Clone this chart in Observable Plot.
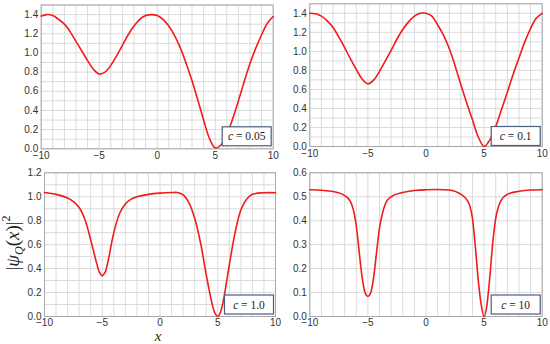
<!DOCTYPE html>
<html><head><meta charset="utf-8">
<script src="https://cdn.jsdelivr.net/npm/d3@7"></script>
<script src="https://cdn.jsdelivr.net/npm/@observablehq/plot@0.6"></script>
<style>
body{margin:0;background:#fff;}
#wrap{position:relative;width:550px;height:344px;overflow:hidden;background:#fff;}
.panel{position:absolute;}
#over{position:absolute;left:0;top:0;pointer-events:none;}
</style></head><body><div id="wrap"></div>
<script>
// ---- data ----
const xA = [-10,-9.5,-9,-8.5,-8,-7.5,-7,-6.5,-6,-5.5,-5,-4.5,-4,-3.5,-3,-2.5,-2,-1.5,-1,-0.5,0,0.5,1,1.5,2,2.5,3,3.5,4,4.5,5,5.5,6,6.5,7,7.5,8,8.5,9,9.5,10];
const y005 = [1.385,1.40,1.39,1.35,1.30,1.22,1.12,1.02,0.92,0.83,0.78,0.80,0.87,0.97,1.08,1.19,1.28,1.35,1.39,1.40,1.39,1.35,1.28,1.18,1.05,0.89,0.71,0.51,0.30,0.11,0.01,0.04,0.15,0.31,0.50,0.70,0.89,1.05,1.19,1.31,1.38];
const y01 = [1.40,1.395,1.37,1.32,1.25,1.15,1.04,0.92,0.81,0.71,0.66,0.70,0.79,0.90,1.01,1.13,1.23,1.31,1.37,1.40,1.40,1.37,1.28,1.17,1.03,0.85,0.65,0.46,0.28,0.10,0.0,0.07,0.21,0.39,0.57,0.76,0.93,1.10,1.24,1.35,1.40];
const xC = [-10,-9,-8,-7.5,-7,-6.5,-6,-5.5,-5.25,-5,-4.75,-4.5,-4,-3.5,-3,-2.5,-2,-1,0,1,1.5,2,2.5,3,3.5,4,4.5,4.75,5,5.25,5.5,6,6.5,7,7.5,8,9,10];
const y10 = [1.035,1.02,0.99,0.96,0.91,0.81,0.64,0.45,0.37,0.34,0.37,0.46,0.70,0.86,0.94,0.98,1.0,1.02,1.03,1.035,1.035,1.015,0.95,0.82,0.62,0.35,0.11,0.03,0.0,0.04,0.14,0.43,0.70,0.89,0.98,1.02,1.033,1.033];
const xD = [-10,-9,-8,-7,-6.5,-6.25,-6,-5.75,-5.5,-5.25,-5,-4.75,-4.5,-4.25,-4,-3.75,-3.5,-3,-2,-1,0,1,2,3,3.5,3.75,4,4.25,4.5,4.75,5,5.25,5.5,5.75,6,6.25,6.5,7,8,9,10];
const y100 = [0.529,0.527,0.522,0.505,0.48,0.445,0.38,0.27,0.165,0.10,0.084,0.10,0.165,0.27,0.37,0.43,0.47,0.50,0.518,0.526,0.529,0.530,0.528,0.51,0.488,0.465,0.41,0.29,0.15,0.05,0.0,0.05,0.17,0.31,0.41,0.46,0.488,0.51,0.523,0.528,0.529];
const xTicks = [-10,-5,0,5,10];
const xGrid = d3.range(-10,11,1);
const yTicksA = [0,0.2,0.4,0.6,0.8,1.0,1.2,1.4];
const yTicksC = [0,0.2,0.4,0.6,0.8,1.0,1.2];
const yTicksD = [0,0.1,0.2,0.3,0.4,0.5,0.6];
const labels = ["c = 0.05","c = 0.1","c = 1.0","c = 10"];

const wrap = document.getElementById("wrap");

function panel(o){
  const data = o.xs.map((x,i)=>({x, y:o.ys[i]}));
  const yGrid = d3.range(0, o.yMax + 1e-9, o.yStep).map(v=>+v.toFixed(3));
  const p = Plot.plot({
    width:o.w, height:o.h,
    marginLeft:o.ml, marginRight:o.mr, marginTop:o.mt, marginBottom:o.mb,
    style:{background:"transparent", overflow:"visible", fontFamily:"'Liberation Sans', Arial, sans-serif", fontSize:"10px", color:"#333"},
    x:{domain:[-10,10], ticks:xTicks, tickSize:0, tickPadding:o.xPad, tickFormat:d3.format("d"), label:null},
    y:{domain:[0,o.yMax], ticks:o.yTicks, tickSize:0, tickPadding:3, tickFormat:d3.format(".1f"), label:null},
    marks:[
      Plot.ruleX(xGrid, {stroke:"#dadada", strokeOpacity:1}),
      Plot.ruleY(yGrid, {stroke:"#dadada", strokeOpacity:1}),
      Plot.frame({stroke:"#a8a8a8"}),
      Plot.line(data, {x:"x", y:"y", stroke:"#f21b1b", strokeWidth:1.6, curve:o.curve})
    ]
  });
  const div = document.createElement("div");
  div.className = "panel";
  div.style.left = o.left+"px"; div.style.top = o.top+"px";
  div.appendChild(p);
  wrap.appendChild(div);
  // label box
  const svg = d3.select(p);
  const bw = 49, bh = 19;
  const bx = o.w - o.mr - 1.5 - bw, by = o.h - o.mb - o.bOff - bh;
  const g = svg.append("g");
  g.append("rect").attr("x",bx).attr("y",by).attr("width",bw).attr("height",bh)
    .attr("fill","#fff").attr("stroke","#4d5d7e").attr("stroke-width",1.2);
  const parts = o.label.split(" = ");
  const t = g.append("text").attr("x",bx+bw/2).attr("y",by+bh/2+4)
    .attr("text-anchor","middle").attr("font-family","'Liberation Serif', 'Times New Roman', serif")
    .attr("font-size","11.5px").attr("fill","#222");
  t.append("tspan").attr("font-style","italic").text(parts[0]);
  t.append("tspan").text(" = " + parts[1]);
}

panel({left:0, top:0, w:280, h:165, ml:40.7, mr:7.3, mt:4.5, mb:16.7, xs:xA, ys:y005, yMax:1.5, yStep:0.1, yTicks:yTicksA, label:labels[0], bOff:2.5, curve:"catmull-rom", xPad:3});
panel({left:270, top:0, w:280, h:165, ml:39.3, mr:8.3, mt:3.3, mb:19, xs:xA, ys:y01, yMax:1.5, yStep:0.1, yTicks:yTicksA, label:labels[1], bOff:0.5, curve:"catmull-rom", xPad:3});
panel({left:0, top:165, w:280, h:179, ml:44, mr:5, mt:7.3, mb:28, xs:xC, ys:y10, yMax:1.2, yStep:0.1, yTicks:yTicksC, label:labels[2], bOff:2, curve:"catmull-rom", xPad:2});
panel({left:270, top:165, w:280, h:179, ml:39.3, mr:8.3, mt:7.3, mb:28, xs:xD, ys:y100, yMax:0.6, yStep:0.1, yTicks:yTicksD, label:labels[3], bOff:2, curve:"monotone-x", xPad:2});

// axis titles
const over = d3.select(wrap).append("svg").attr("id","over").attr("width",550).attr("height",344);
over.append("text").attr("x",158).attr("y",340.5).attr("text-anchor","middle")
  .attr("font-family","'Liberation Serif', 'Times New Roman', serif").attr("font-style","italic")
  .attr("font-size","15px").attr("fill","#222").text("x");
const yl = over.append("text").attr("transform","translate(19,243) rotate(-90)").attr("text-anchor","middle")
  .attr("font-family","'Liberation Serif', 'Times New Roman', serif").attr("font-size","19px").attr("fill","#222");
yl.append("tspan").text("|");
yl.append("tspan").attr("font-style","italic").text("ψ");
yl.append("tspan").attr("font-style","italic").attr("font-size","12px").attr("dy",4).text("Q");
yl.append("tspan").attr("dy",-4).text("(");
yl.append("tspan").attr("font-style","italic").text("x");
yl.append("tspan").text(")|");
yl.append("tspan").attr("font-size","12px").attr("dy",-9).text("2");
</script></body></html>
